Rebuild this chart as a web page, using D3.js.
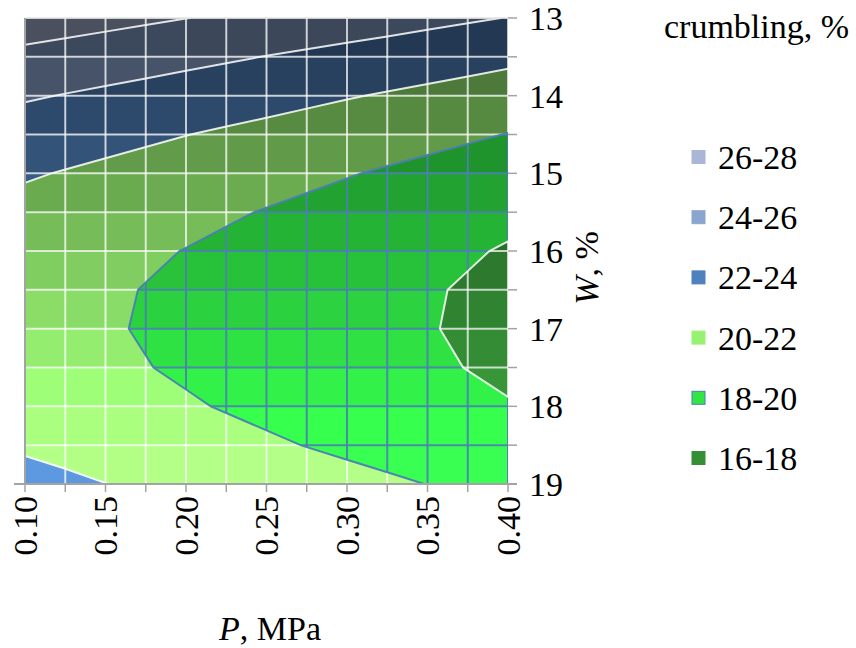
<!DOCTYPE html>
<html>
<head>
<meta charset="utf-8">
<script src="https://cdn.jsdelivr.net/npm/d3@7"></script>
<style>
  body { margin: 0; background: #ffffff; }
  text { font-family: "Liberation Serif", "Times New Roman", serif; fill: #000; }
</style>
</head>
<body>
<svg id="chart" width="856" height="648" font-family="Liberation Serif, Times New Roman, serif"></svg>
<script>
// Pressure P (MPa) – grid columns
const pressure = [0.100, 0.125, 0.150, 0.175, 0.200, 0.225, 0.250, 0.275, 0.300, 0.325, 0.350, 0.375, 0.400];
// Moisture W (%) – grid rows
const moisture = [13, 13.5, 14, 14.5, 15, 15.5, 16, 16.5, 17, 17.5, 18, 18.5, 19];
// Crumbling (%) for each moisture row (top to bottom) and pressure column (left to right)
const crumbling = [
  [27.06, 26.80, 26.54, 26.28, 26.02, 25.77, 25.51, 25.25, 24.99, 24.73, 24.47, 24.21, 23.95],
  [25.52, 25.26, 25.00, 24.74, 24.48, 24.22, 23.96, 23.70, 23.44, 23.19, 22.93, 22.67, 22.41],
  [24.19, 23.93, 23.67, 23.41, 23.15, 22.89, 22.63, 22.37, 22.11, 21.86, 21.60, 21.34, 21.08],
  [23.07, 22.81, 22.55, 22.29, 22.03, 21.77, 21.52, 21.26, 21.00, 20.74, 20.48, 20.22, 19.96],
  [22.17, 21.91, 21.65, 21.39, 21.13, 20.87, 20.61, 20.35, 20.09, 19.83, 19.57, 19.31, 19.05],
  [21.47, 21.21, 20.95, 20.69, 20.44, 20.18, 19.92, 19.66, 19.40, 19.14, 18.88, 18.62, 18.36],
  [20.99, 20.73, 20.47, 20.21, 19.96, 19.70, 19.44, 19.18, 18.92, 18.66, 18.40, 18.14, 17.88],
  [20.72, 20.47, 20.21, 19.95, 19.69, 19.43, 19.17, 18.91, 18.65, 18.39, 18.13, 17.87, 17.61],
  [20.67, 20.41, 20.15, 19.89, 19.63, 19.37, 19.11, 18.85, 18.60, 18.34, 18.08, 17.82, 17.56],
  [20.83, 20.57, 20.31, 20.05, 19.79, 19.53, 19.27, 19.01, 18.75, 18.49, 18.23, 17.97, 17.72],
  [21.20, 20.94, 20.68, 20.42, 20.16, 19.90, 19.64, 19.38, 19.12, 18.86, 18.60, 18.34, 18.09],
  [21.78, 21.52, 21.26, 21.00, 20.74, 20.48, 20.22, 19.96, 19.70, 19.45, 19.19, 18.93, 18.67],
  [22.57, 22.31, 22.02, 21.80, 21.54, 21.28, 21.02, 20.76, 20.50, 20.24, 19.98, 19.72, 19.46]
];
// Contour bands, highest first
const bandLabels = ["26-28", "24-26", "22-24", "20-22", "18-20", "16-18"];
const bandUpper  = [28, 26, 24, 22, 20, 18];
const bandColors = ["#a9b6d8", "#8aa5cf", "#4f81bd", "#98f272", "#30e645", "#358f35"];
const bandLines  = ["#ffffff", "#ffffff", "#ffffff", "#ffffff", "#4a7fb3", "#ffffff"];
// Axis labels
const xTickLabels = ["0.10", "0.15", "0.20", "0.25", "0.30", "0.35", "0.40"];
const yTickLabels = ["13", "14", "15", "16", "17", "18", "19"];

const svg = d3.select("#chart");
const plotL = 25, plotR = 508, plotT = 18, plotB = 484;
const x = d3.scaleLinear().domain([pressure[0], pressure[pressure.length - 1]]).range([plotL, plotR]);
const y = d3.scaleLinear().domain([moisture[0], moisture[moisture.length - 1]]).range([plotT, plotB]);

const nx = pressure.length, ny = moisture.length;
const dP = pressure[1] - pressure[0], dW = moisture[1] - moisture[0];

// contour regions "crumbling <= t" via negated values
const negated = crumbling.flat().map(v => -v);
const contourGen = d3.contours().size([nx, ny]);
const toPlot = d3.geoTransform({
  point(gx, gy) {
    this.stream.point(x(pressure[0] + (gx - 0.5) * dP), y(moisture[0] + (gy - 0.5) * dW));
  }
});
const geo = d3.geoPath(toPlot);

// surface lighting: brightness from the slope along W in each cell
function cellLight(i, j) {
  const zTop = (crumbling[j][i] + crumbling[j][i + 1]) / 2;
  const zBot = (crumbling[j + 1][i] + crumbling[j + 1][i + 1]) / 2;
  const s = (zBot - zTop) / (moisture[j + 1] - moisture[j]);
  return Math.max(0.3, Math.min(1.35, 0.93 + 0.16 * s));
}
function shade(hex, k) {
  const c = d3.rgb(hex);
  return d3.rgb(Math.min(255, c.r * k), Math.min(255, c.g * k), Math.min(255, c.b * k)).formatHex();
}

const defs = svg.append("defs");
defs.append("clipPath").attr("id", "plotClip")
  .append("rect").attr("x", plotL).attr("y", plotT).attr("width", plotR - plotL).attr("height", plotB - plotT);
for (let j = 0; j < ny - 1; j++) {
  for (let i = 0; i < nx - 1; i++) {
    defs.append("clipPath").attr("id", `cell-${i}-${j}`)
      .append("rect")
      .attr("x", x(pressure[i])).attr("y", y(moisture[j]))
      .attr("width", x(pressure[i + 1]) - x(pressure[i]))
      .attr("height", y(moisture[j + 1]) - y(moisture[j]));
  }
}

const plot = svg.append("g").attr("clip-path", "url(#plotClip)");

bandUpper.forEach((upper, bi) => {
  const region = contourGen.contour(negated, -upper);
  const d = geo(region);
  if (!d) return;
  defs.append("clipPath").attr("id", `band${bi}`).append("path").attr("d", d);
  const layer = plot.append("g");

  // shaded fill, cell by cell
  for (let j = 0; j < ny - 1; j++) {
    for (let i = 0; i < nx - 1; i++) {
      const lo = Math.min(crumbling[j][i], crumbling[j][i + 1], crumbling[j + 1][i], crumbling[j + 1][i + 1]);
      if (lo > upper) continue;
      const c = shade(bandColors[bi], cellLight(i, j));
      layer.append("path")
        .attr("d", d)
        .attr("fill", c)
        .attr("stroke", c)
        .attr("stroke-width", 0.6)
        .attr("clip-path", `url(#cell-${i}-${j})`);
    }
  }

  // cell borders inside this band
  const grid = layer.append("g").attr("clip-path", `url(#band${bi})`)
    .attr("stroke", bandLines[bi])
    .attr("stroke-opacity", bandLines[bi] === "#ffffff" ? 0.72 : 0.9)
    .attr("stroke-width", 2);
  grid.selectAll("line.v").data(pressure).join("line").attr("class", "v")
    .attr("x1", d => x(d)).attr("x2", d => x(d)).attr("y1", plotT).attr("y2", plotB);
  grid.selectAll("line.h").data(moisture).join("line").attr("class", "h")
    .attr("x1", plotL).attr("x2", plotR).attr("y1", d => y(d)).attr("y2", d => y(d));

  // band outline
  layer.append("path")
    .attr("d", d)
    .attr("fill", "none")
    .attr("stroke", bandLines[bi])
    .attr("stroke-opacity", bandLines[bi] === "#ffffff" ? 0.85 : 0.95)
    .attr("stroke-width", 2);
});

// frame and axes
const axisColor = "#a3a3a3";
svg.append("line").attr("x1", plotL).attr("x2", plotR).attr("y1", plotT).attr("y2", plotT)
  .attr("stroke", "#d4d4d4").attr("stroke-width", 1);
svg.append("line").attr("x1", plotL).attr("x2", plotL).attr("y1", plotT).attr("y2", plotB)
  .attr("stroke", axisColor).attr("stroke-width", 2);
svg.append("line").attr("x1", 14).attr("x2", plotR + 9).attr("y1", plotB).attr("y2", plotB)
  .attr("stroke", axisColor).attr("stroke-width", 2);

// P axis ticks (bottom)
svg.append("g").selectAll("line").data(pressure).join("line")
  .attr("x1", d => x(d)).attr("x2", d => x(d))
  .attr("y1", plotB).attr("y2", plotB + 8)
  .attr("stroke", axisColor).attr("stroke-width", 1.5);
// W axis ticks (right)
svg.append("g").selectAll("line").data(moisture).join("line")
  .attr("x1", plotR).attr("x2", plotR + 9)
  .attr("y1", d => y(d)).attr("y2", d => y(d))
  .attr("stroke", axisColor).attr("stroke-width", 1.5);

const fontSize = 34;
// P tick labels, rotated
svg.append("g").selectAll("text").data(xTickLabels).join("text")
  .attr("transform", d => `translate(${x(+d)},${plotB + 12}) rotate(-90)`)
  .attr("text-anchor", "end")
  .attr("dy", "0.35em")
  .attr("font-size", fontSize)
  .text(d => d);
// W tick labels
svg.append("g").selectAll("text").data(yTickLabels).join("text")
  .attr("x", plotR + 21)
  .attr("y", d => y(+d))
  .attr("dy", "0.35em")
  .attr("font-size", fontSize)
  .text(d => d);

// axis titles
const xTitle = svg.append("text").attr("x", 270).attr("y", 640)
  .attr("text-anchor", "middle").attr("font-size", fontSize);
xTitle.append("tspan").attr("font-style", "italic").text("P");
xTitle.append("tspan").text(", MPa");

const yTitle = svg.append("text")
  .attr("transform", `translate(586,268) rotate(-90)`)
  .attr("text-anchor", "middle").attr("dy", "0.35em").attr("font-size", fontSize);
yTitle.append("tspan").attr("font-style", "italic").text("W");
yTitle.append("tspan").text(", %");

// legend
svg.append("text").attr("x", 664).attr("y", 38).attr("font-size", fontSize).text("crumbling, %");
const legend = svg.append("g").selectAll("g").data(bandLabels).join("g")
  .attr("transform", (d, i) => `translate(692,${157 + i * 60.2})`);
legend.append("rect")
  .attr("x", 0).attr("y", -6.5).attr("width", 13).attr("height", 13)
  .attr("fill", (d, i) => bandColors[i])
  .attr("stroke", (d, i) => bandLines[i] === "#ffffff" ? bandColors[i] : bandLines[i])
  .attr("stroke-width", 1);
legend.append("text")
  .attr("x", 26).attr("y", 0).attr("dy", "0.35em")
  .attr("font-size", fontSize)
  .text(d => d);
</script>
</body>
</html>
